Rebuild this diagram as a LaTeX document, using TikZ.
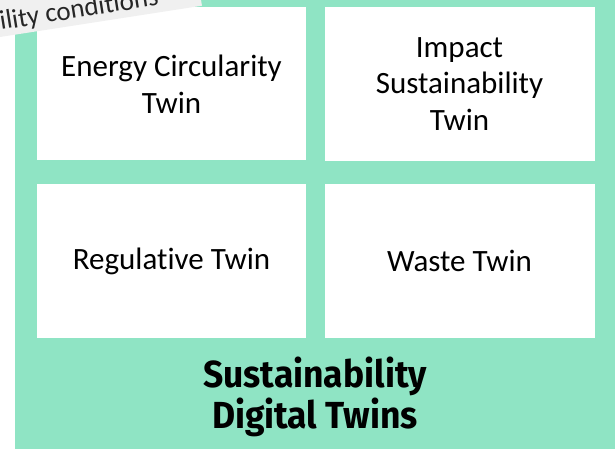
\documentclass[tikz,border=0pt]{standalone}
\usepackage{fontspec}
\setmainfont{Carlito}[Ligatures=NoCommon]
\newfontfamily\titlefont{Fira Sans}[FakeStretch=0.94]
\definecolor{mint}{RGB}{143,228,196}
\definecolor{paper}{RGB}{240,240,240}

\begin{document}
\begin{tikzpicture}[x=1pt,y=-1pt,
  twin/.style={fill=white,minimum width=269pt,minimum height=153pt,inner sep=0pt,align=center,font=\fontsize{31}{36.6}\selectfont}]
\useasboundingbox (0,0) rectangle (615,454);
\clip (0,0) rectangle (615,454);
\fill[mint] (15,0) rectangle (615,449);
\draw node[twin] (energy) at (171.5,84) {Energy Circularity\\Twin};
\draw node[twin,minimum width=270pt,minimum height=154pt] (impact) at (459.5,84) {Impact\\Sustainability\\Twin};
\draw node[twin] (regulative) at (171.5,261) {Regulative Twin};
\draw node[twin,minimum width=270pt] (waste) at (459.5,261) {Waste Twin};
\fill[paper] (0,0) -- (201,0) -- (202,5.7) -- (0,37) -- cycle;
\draw node[rotate=9,anchor=base west,inner sep=0pt,text=black!85,font=\fontsize{27}{27}\selectfont] (cond) at (1,30) {ility conditions};
\draw node[align=center,inner sep=0pt,font=\titlefont\bfseries\fontsize{37.7}{41}\selectfont] (title) at (315,397) {Sustainability\\Digital Twins};
\end{tikzpicture}
\end{document}
